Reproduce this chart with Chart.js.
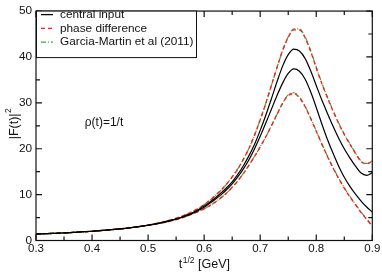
<!DOCTYPE html>
<html><head><meta charset="utf-8">
<script src="https://cdn.jsdelivr.net/npm/chart.js@4/dist/chart.umd.min.js"></script>
<style>html,body{margin:0;padding:0;background:#fff}#wrap{width:382px;height:273px}</style>
</head><body><div id="wrap"><canvas id="c" width="382" height="273"></canvas></div>
<script>
// sqrt(t) in GeV
const xValues = [0.30,0.31,0.32,0.33,0.34,0.35,0.36,0.37,0.38,0.39,
  0.40,0.41,0.42,0.43,0.44,0.45,0.46,0.47,0.48,0.49,
  0.50,0.51,0.52,0.53,0.54,0.55,0.56,0.57,0.58,0.59,
  0.60,0.61,0.62,0.63,0.64,0.65,0.66,0.67,0.68,0.69,
  0.70,0.71,0.72,0.73,0.74,0.75,0.76,0.77,0.78,0.79,
  0.80,0.81,0.82,0.83,0.84,0.85,0.86,0.87,0.88,0.89,0.90];
// central input (upper / lower)
const centralUpper = [1.40,1.45,1.50,1.55,1.60,1.66,1.72,1.79,1.86,1.94,
  2.02,2.11,2.20,2.30,2.41,2.53,2.66,2.80,2.96,3.14,
  3.34,3.56,3.80,4.07,4.38,4.72,5.12,5.58,6.12,6.75,
  7.50,8.35,9.30,10.35,11.50,12.80,14.40,16.30,18.50,21.00,
  24.00,27.30,30.90,34.60,38.00,40.50,41.70,41.30,39.70,37.00,
  33.80,30.60,27.70,24.90,22.30,20.00,18.00,16.20,14.70,14.20,14.80];
const centralLower = [1.40,1.45,1.50,1.55,1.60,1.66,1.72,1.79,1.86,1.94,
  2.02,2.11,2.20,2.30,2.41,2.53,2.66,2.80,2.96,3.14,
  3.32,3.53,3.76,4.02,4.32,4.64,5.02,5.46,5.97,6.57,
  7.25,8.10,9.00,9.95,11.05,12.35,13.85,15.60,17.60,20.00,
  22.70,25.60,28.60,31.60,34.30,36.40,37.40,36.90,35.20,32.40,
  29.00,25.40,22.00,19.00,16.20,13.80,11.80,10.10,8.60,7.30,6.20];
// phase difference (upper / lower)
const phaseUpper = [1.40,1.45,1.50,1.55,1.60,1.66,1.72,1.79,1.86,1.94,
  2.02,2.11,2.20,2.30,2.41,2.53,2.66,2.80,2.97,3.16,
  3.37,3.60,3.86,4.15,4.48,4.85,5.28,5.78,6.36,7.04,
  7.82,8.75,9.80,10.95,12.30,13.85,15.60,17.70,20.10,23.00,
  26.30,29.90,33.80,37.70,41.40,44.30,45.90,45.90,44.20,41.20,
  37.60,34.20,31.10,28.20,25.50,23.10,21.00,19.00,17.20,16.70,17.30];
const phaseLower = [1.40,1.45,1.50,1.55,1.60,1.66,1.72,1.79,1.86,1.94,
  2.02,2.11,2.20,2.30,2.41,2.53,2.66,2.80,2.95,3.12,
  3.30,3.50,3.72,3.97,4.25,4.57,4.93,5.35,5.83,6.35,
  6.90,7.60,8.40,9.30,10.35,11.60,13.00,14.60,16.40,18.35,
  20.40,22.60,25.00,27.50,29.90,31.60,32.00,31.10,29.20,26.60,
  23.80,21.00,18.30,15.80,13.50,11.40,9.50,7.80,6.10,4.60,3.10];
// Garcia-Martin et al (2011) (upper / lower)
const garciaUpper = [1.40,1.45,1.50,1.55,1.60,1.66,1.72,1.79,1.86,1.94,
  2.02,2.11,2.20,2.30,2.41,2.53,2.66,2.80,2.97,3.16,
  3.37,3.60,3.86,4.15,4.48,4.85,5.28,5.78,6.36,7.04,
  7.82,8.75,9.80,10.95,12.30,13.85,15.60,17.70,20.10,23.00,
  26.30,29.90,33.80,37.70,41.40,44.40,46.10,46.10,44.40,41.40,
  37.80,34.30,31.20,28.30,25.60,23.20,21.10,19.10,17.30,16.80,17.40];
const garciaLower = [1.40,1.45,1.50,1.55,1.60,1.66,1.72,1.79,1.86,1.94,
  2.02,2.11,2.20,2.30,2.41,2.53,2.66,2.80,2.95,3.12,
  3.30,3.50,3.72,3.97,4.25,4.57,4.93,5.35,5.83,6.35,
  6.90,7.60,8.40,9.30,10.35,11.60,13.00,14.60,16.40,18.35,
  20.40,22.60,25.00,27.50,29.90,31.80,32.20,31.30,29.30,26.70,
  23.90,21.10,18.40,15.90,13.60,11.50,9.60,7.90,6.20,4.70,3.20];

const xTicks = [0.3,0.4,0.5,0.6,0.7,0.8,0.9];
const xMinorTicks = [0.35,0.45,0.55,0.65,0.75,0.85];
const yTicks = [0,10,20,30,40,50];
const yMinorTicks = [5,15,25,35,45];
const legendLabels = ['central input','phase difference','Garcia-Martin et al (2011)'];
const annotationText = 'ρ(t)=1/t';
const annotationAt = [0.387, 25.6];

const FONT = "'Liberation Sans', Arial, Helvetica, sans-serif";
const BLACK = '#000000', RED = '#ff1a1a', GREEN = '#3aaa3a';
const DASH_RED = [4,3], DASH_GREEN = [5,2,1,2];

const pts = arr => arr.map((v,i)=>({x:xValues[i], y:v}));
const ds = (arr, color, dash, w) => ({data: pts(arr), borderColor: color, borderDash: dash, borderWidth: w,
  pointRadius: 0, fill: false, cubicInterpolationMode: 'monotone'});

const deco = {
  id: 'deco',
  afterDraw(chart) {
    const {ctx, chartArea: a, scales: {x, y}} = chart;
    ctx.save();
    ctx.strokeStyle = '#111'; ctx.lineWidth = 1.2; ctx.setLineDash([]);
    ctx.strokeRect(a.left, a.top, a.right - a.left, a.bottom - a.top);
    const tick = (len, list, axis) => {
      list.forEach(v => {
        ctx.beginPath();
        if (axis === 'x') {
          const p = x.getPixelForValue(v);
          ctx.moveTo(p, a.bottom); ctx.lineTo(p, a.bottom - len);
          ctx.moveTo(p, a.top); ctx.lineTo(p, a.top + len);
        } else {
          const p = y.getPixelForValue(v);
          ctx.moveTo(a.left, p); ctx.lineTo(a.left + len, p);
          ctx.moveTo(a.right, p); ctx.lineTo(a.right - len, p);
        }
        ctx.stroke();
      });
    };
    tick(6, xTicks, 'x'); tick(4, xMinorTicks, 'x');
    tick(6, yTicks, 'y'); tick(4, yMinorTicks, 'y');

    // legend
    ctx.fillStyle = '#fff';
    ctx.fillRect(a.left, a.top, 160.5, 46.5);
    ctx.strokeStyle = '#111'; ctx.lineWidth = 1;
    ctx.strokeRect(a.left + 0.5, a.top, 160, 46.5);
    const rows = [14.6, 28.3, 42.2];
    const styles = [[BLACK, []], [RED, DASH_RED], [GREEN, DASH_GREEN]];
    ctx.font = '11.8px ' + FONT; ctx.textBaseline = 'middle'; ctx.textAlign = 'left';
    rows.forEach((ry, i) => {
      ctx.strokeStyle = styles[i][0]; ctx.setLineDash(styles[i][1]); ctx.lineWidth = 1.3;
      ctx.beginPath(); ctx.moveTo(a.left + 5, ry); ctx.lineTo(a.left + 17, ry); ctx.stroke();
      ctx.setLineDash([]); ctx.fillStyle = '#111';
      ctx.fillText(legendLabels[i], a.left + 24, ry);
    });

    // annotation
    ctx.font = '12px ' + FONT; ctx.fillStyle = '#111';
    ctx.fillText(annotationText, x.getPixelForValue(annotationAt[0]), y.getPixelForValue(annotationAt[1]));

    // x title  t^{1/2} [GeV]
    ctx.textBaseline = 'alphabetic';
    const mainF = '12.5px ' + FONT, supF = '8.5px ' + FONT;
    ctx.font = mainF; const w1 = ctx.measureText('t').width, w3 = ctx.measureText(' [GeV]').width;
    ctx.font = supF; const w2 = ctx.measureText('1/2').width;
    let sx = (a.left + a.right) / 2 - (w1 + w2 + w3) / 2, by = 268;
    ctx.font = mainF; ctx.fillText('t', sx, by);
    ctx.font = supF; ctx.fillText('1/2', sx + w1 + 0.5, by - 5.5);
    ctx.font = mainF; ctx.fillText(' [GeV]', sx + w1 + w2 + 0.5, by);

    // y title |F(t)|^2
    ctx.save();
    ctx.translate(17.5, 124);
    ctx.rotate(-Math.PI / 2);
    ctx.font = mainF; const m1 = ctx.measureText('|F(t)|').width;
    ctx.font = supF; const m2 = ctx.measureText('2').width;
    const st = -(m1 + m2) / 2;
    ctx.font = mainF; ctx.fillText('|F(t)|', st, 0);
    ctx.font = supF; ctx.fillText('2', st + m1 + 0.5, -6.5);
    ctx.restore();
    ctx.restore();
  }
};

new Chart(document.getElementById('c'), {
  type: 'line',
  data: { datasets: [
    ds(centralUpper, BLACK, [], 1.2),
    ds(centralLower, BLACK, [], 1.2),
    ds(phaseUpper, RED, DASH_RED, 1.3),
    ds(phaseLower, RED, DASH_RED, 1.3),
    ds(garciaUpper, GREEN, DASH_GREEN, 1.2),
    ds(garciaLower, GREEN, DASH_GREEN, 1.2)
  ]},
  options: {
    responsive: false, animation: false, devicePixelRatio: 1,
    layout: { padding: { top: 4, right: 9.7, left: 0, bottom: 0 } },
    plugins: { legend: { display: false }, tooltip: { enabled: false } },
    scales: {
      x: { type: 'linear', min: 0.3, max: 0.9,
        afterBuildTicks: s => { s.ticks = xTicks.map(v => ({value: v})); },
        afterFit: s => { s.height = 32.5; },
        grid: { display: false, drawTicks: false }, border: { display: false },
        ticks: { padding: 1, maxRotation: 0, autoSkip: false, color: '#111',
          font: { family: FONT, size: 11.5 }, callback: v => Number(v).toFixed(1) } },
      y: { type: 'linear', min: 0, max: 50,
        afterBuildTicks: s => { s.ticks = yTicks.map(v => ({value: v})); },
        afterFit: s => { s.width = 36; },
        grid: { display: false, drawTicks: false }, border: { display: false },
        ticks: { padding: 4, color: '#111', font: { family: FONT, size: 11.8 } } }
    }
  },
  plugins: [deco]
});
</script></body></html>
